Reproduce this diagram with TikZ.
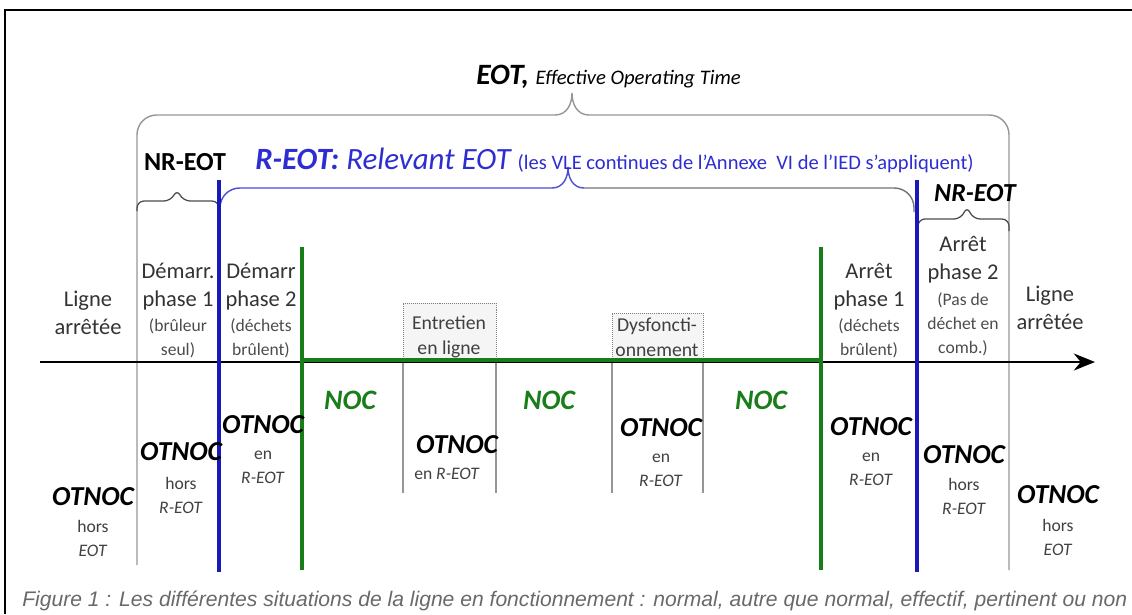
\documentclass[tikz,border=0pt]{standalone}
\usepackage{fontspec}
\setmainfont{Carlito}
\newfontfamily\capfont{Liberation Sans}
\usetikzlibrary{arrows.meta,positioning}
\definecolor{reotblue}{RGB}{45,45,210}
\definecolor{lineblue}{RGB}{25,25,185}
\definecolor{nocgreen}{RGB}{25,125,25}
\definecolor{limitgray}{RGB}{150,150,150}
\definecolor{capgray}{RGB}{105,105,105}

\tikzset{
  phase/.style={align=center, inner sep=0pt, text=black!80, font=\fontsize{16}{20}\selectfont},
  phasesub/.style={align=center, inner sep=0pt, text=black!70, font=\fontsize{12.5}{17}\selectfont},
  otnoc/.style={inner sep=0pt, font=\fontsize{19.5}{22}\selectfont\bfseries\itshape},
  otnocsub/.style={align=center, inner sep=0pt, text=black!75, font=\fontsize{12.5}{17}\selectfont},
  noc/.style={inner sep=0pt, text=nocgreen, font=\fontsize{20}{22}\selectfont\bfseries\itshape},
  limit/.style={draw=limitgray, line width=1pt},
  reotline/.style={draw=lineblue, line width=2.2pt},
  nocline/.style={draw=nocgreen, line width=2.2pt},
  eventbox/.style={draw=gray, densely dotted, fill=gray!8},
  eventlbl/.style={align=center, inner sep=0pt, text=black!75, font=\fontsize{14}{18}\selectfont},
}

\begin{document}
\begin{tikzpicture}[x=0.025cm, y=-0.025cm]
    \useasboundingbox (0,0) rectangle (1132,614);
    % frame
    \draw[line width=1.6pt] (5,614) -- (5,10) -- (1132,10);

    % EOT brace, its legs run down as the outer limits
    \draw[limit, rounded corners=14pt] (137,565) -- (137,115) -- (555,115);
    \draw[limit] (555,115) .. controls (567,115) and (572,104) .. (572,93)
                           .. controls (572,104) and (577,115) .. (589,115);
    \draw[limit, rounded corners=14pt] (589,115) -- (1009,115) -- (1009,570);
    \node[inner sep=0pt, anchor=west] (eot) at (476,77)
        {\fontsize{21}{24}\selectfont\bfseries\itshape EOT,
         {\fontsize{14.7}{17}\selectfont\mdseries Effective Operating Time}};

    % R-EOT brace
    \draw[reotblue!85, line width=1pt, rounded corners=14pt] (220,212) -- (220,188) -- (552,188);
    \draw[reotblue!85, line width=1pt] (552,188) .. controls (563,188) and (568,178) .. (568,167)
                                       .. controls (568,178) and (573,188) .. (584,188);
    \draw[black!55, line width=1pt, rounded corners=14pt] (584,188) -- (914,188) -- (914,212);
    \node[inner sep=0pt, anchor=west, text=reotblue] (reot) at (255,160)
        {\fontsize{22}{25}\selectfont\bfseries\itshape R-EOT: {\mdseries Relevant EOT}
         {\fontsize{14.6}{17}\selectfont\upshape\mdseries (les VLE continues de l’Annexe~ VI de l’IED s’appliquent)}};

    % NR-EOT braces
    \draw[black!70, line width=0.9pt, rounded corners=5pt]
        (137,211) -- (137,201) -- (171,201) -- (177,189) -- (183,201) -- (219,201) -- (219,211);
    \node[inner sep=0pt, font=\fontsize{18.5}{22}\selectfont\bfseries] (nrl) at (185,162) {NR-EOT};
    \draw[black!70, line width=0.9pt, rounded corners=5pt]
        (918,231) -- (918,219) -- (961,219) -- (967,206) -- (973,219) -- (1009,219) -- (1009,231);
    \node[inner sep=0pt, font=\fontsize{18.5}{22}\selectfont\bfseries\itshape] (nrr) at (975,193) {NR-EOT};

    % events on the line
    \draw[eventbox] (403,362) rectangle (496,303);
    \draw[eventbox] (612,362) rectangle (703,313);
    \draw[limit] (403,362) -- (403,493);
    \draw[limit] (496,362) -- (496,493);
    \draw[limit] (612,362) -- (612,493);
    \draw[limit] (703,362) -- (703,493);
    \node[eventlbl] (ent) at (449,337) {Entretien\\en ligne};
    \node[eventlbl] (dys) at (657,337) {Dysfoncti-\\onnement};

    % time axis
    \coordinate (t0) at (40,362);
    \coordinate (t1) at (1095,362);
    \draw[line width=2pt, -{Stealth[length=15pt, width=12pt]}] (t0) -- (t1);
    \coordinate (n0) at (302,360);
    \coordinate (n1) at (821,360);
    \draw[nocline, line width=2.4pt] (n0) -- (n1);

    % R-EOT and NOC limits
    \draw[reotline] (219,180) -- (219,572);
    \draw[reotline] (917,180) -- (917,572);
    \draw[nocline] (302,247) -- (302,570);
    \draw[nocline] (821,247) -- (821,570);

    % phases above the axis
    \node[phase] (lig1) at (88,313) {Ligne\\arrêtée};
    \node[phase] (dem1) at (178,287) {Démarr.\\phase 1};
    \node[phasesub] (dem1s) at (178,338) {(brûleur\\seul)};
    \node[phase] (dem2) at (261,287) {Démarr\\phase 2};
    \node[phasesub] (dem2s) at (261,338) {(déchets\\brûlent)};
    \node[phase] (arr1) at (869,287) {Arrêt\\phase 1};
    \node[phasesub] (arr1s) at (869,338) {(déchets\\brûlent)};
    \node[phase] (arr2) at (963,260) {Arrêt\\phase 2};
    \node[phasesub] (arr2s) at (963,324) {(Pas de\\déchet en\\comb.)};
    \node[phase] (lig2) at (1050,308) {Ligne\\arrêtée};

    % operating conditions below the axis
    \node[noc] (noc1) at (350,400) {NOC};
    \node[noc] (noc2) at (549,400) {NOC};
    \node[noc] (noc3) at (761,400) {NOC};

    \node[otnoc] (ot1) at (93,497) {OTNOC};
    \node[otnocsub] (ot1s) at (93,538) {hors\\\textit{EOT}};
    \node[otnoc] (ot2) at (181,452) {OTNOC};
    \node[otnocsub] (ot2s) at (181,495) {hors\\\textit{R-EOT}};
    \node[otnoc] (ot3) at (263,425) {OTNOC};
    \node[otnocsub] (ot3s) at (263,467) {en\\\textit{R-EOT}};
    \node[otnoc] (ot4) at (457,445) {OTNOC};
    \node[otnocsub] (ot4s) at (447,474) {en \textit{R-EOT}};
    \node[otnoc] (ot5) at (661,428) {OTNOC};
    \node[otnocsub] (ot5s) at (661,470) {en\\\textit{R-EOT}};
    \node[otnoc] (ot6) at (871,427) {OTNOC};
    \node[otnocsub] (ot6s) at (871,469) {en\\\textit{R-EOT}};
    \node[otnoc] (ot7) at (964,455) {OTNOC};
    \node[otnocsub] (ot7s) at (964,496) {hors\\\textit{R-EOT}};
    \node[otnoc] (ot8) at (1058,495) {OTNOC};
    \node[otnocsub] (ot8s) at (1058,537) {hors\\\textit{EOT}};

    % caption
    \node[inner sep=0pt, anchor=west, text=capgray, font=\capfont\itshape\fontsize{15}{17}\selectfont] (cap) at (22,601)
        {Figure 1 : Les différentes situations de la ligne en fonctionnement : normal, autre que normal, effectif, pertinent ou non};
\end{tikzpicture}
\end{document}
